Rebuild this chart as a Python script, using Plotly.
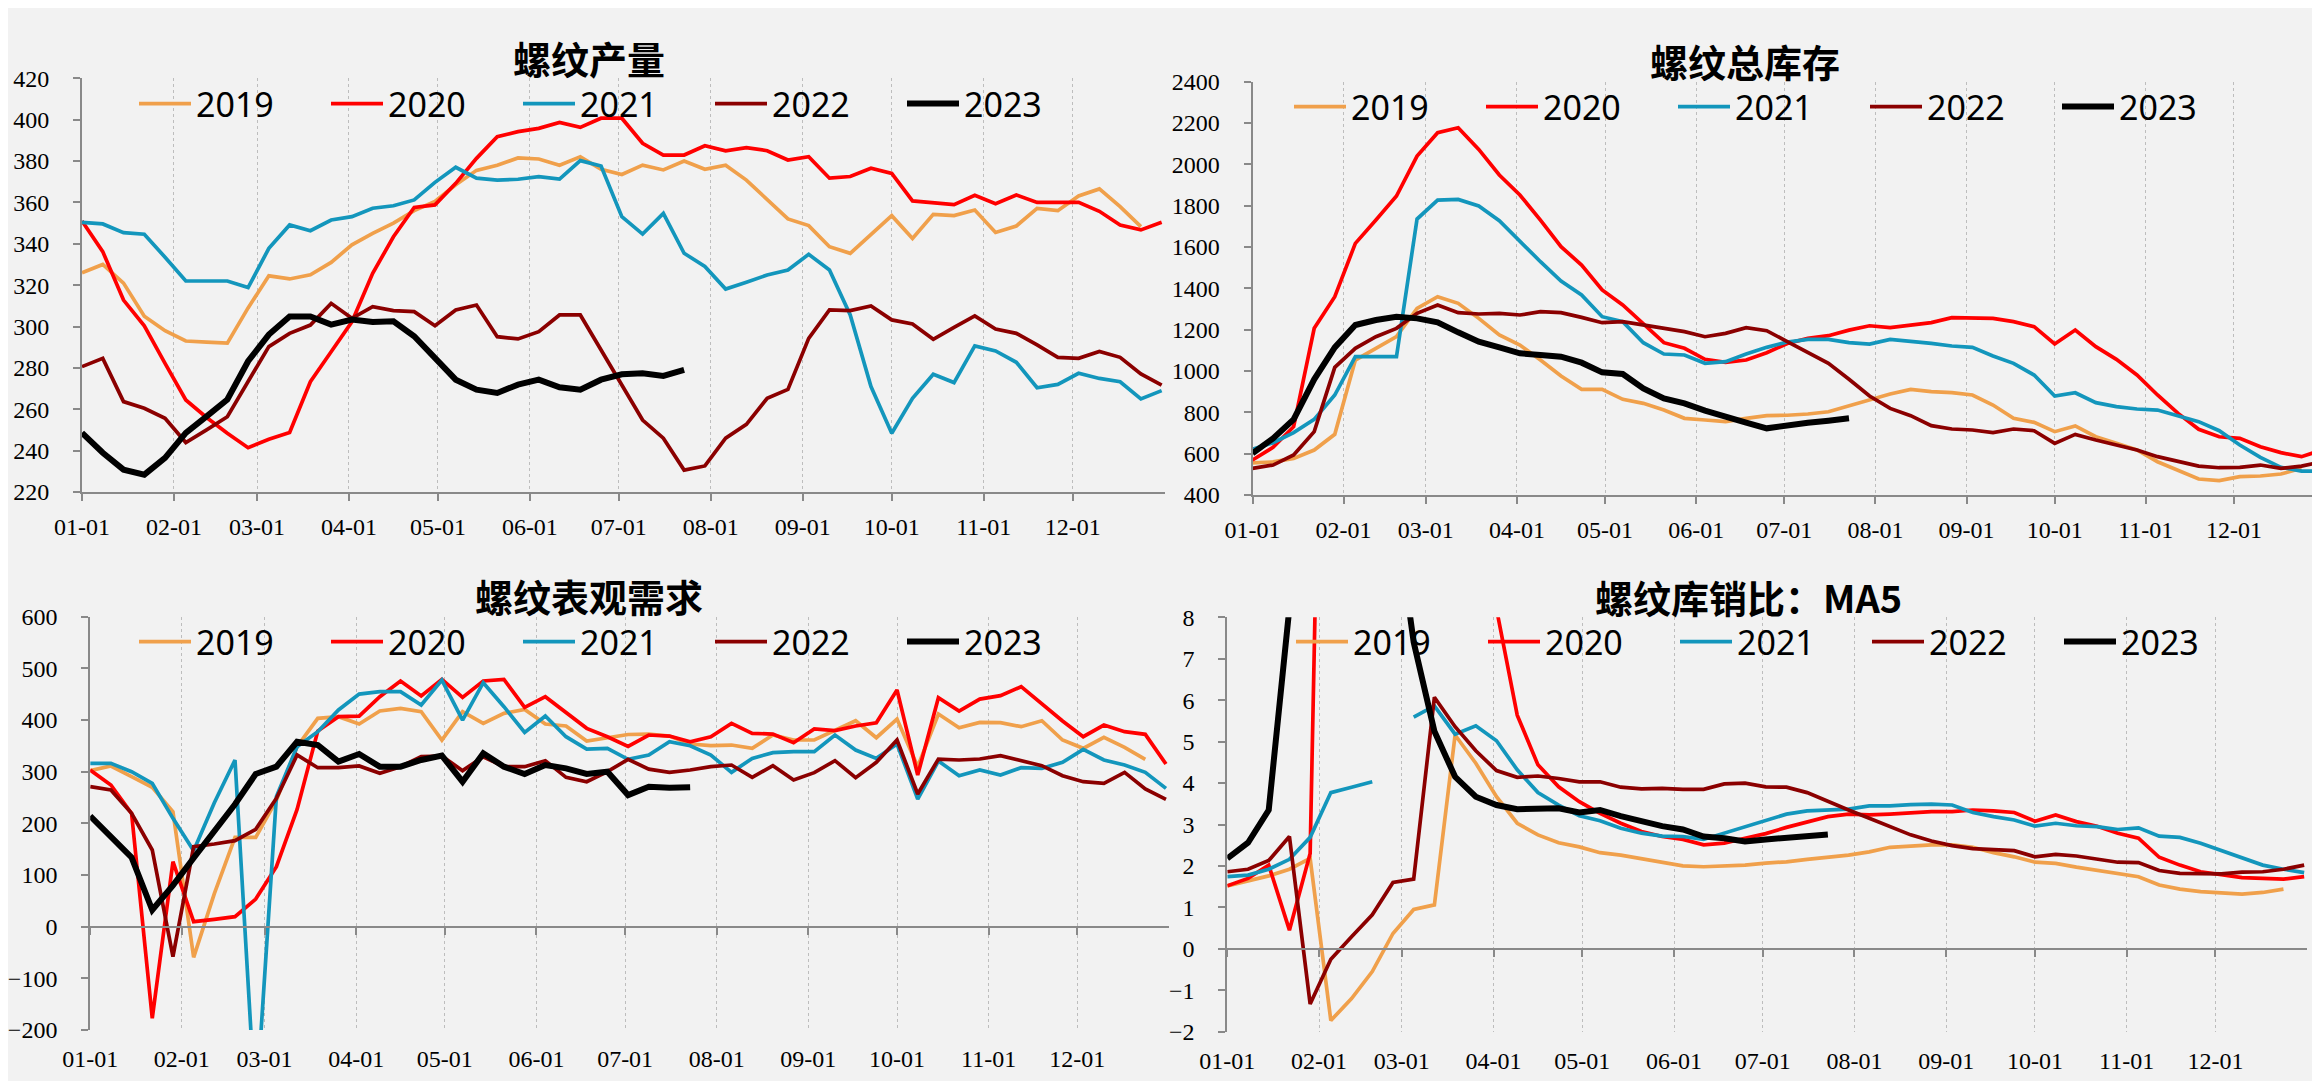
import pandas as pd
import plotly.graph_objects as go

# target screenshot size and the page's default 8px body margin
SW, SH = 2320, 1081
PAGE = 8
W, H = SW - PAGE, SH - PAGE


def fx(x):
    return (x - PAGE) / W


def fy(y):
    return 1 - (y - PAGE) / H


years = ["2019", "2020", "2021", "2022", "2023"]
colors = {"2019": "#F0A04B", "2020": "#FF0000", "2021": "#1396BC", "2022": "#8B0000", "2023": "#000000"}
widths = {"2019": 3.7, "2020": 3.7, "2021": 3.7, "2022": 3.7, "2023": 6}

# ---------------- 螺纹产量 ----------------
prod_2019 = [326, 330, 321, 305, 298, 293, 292.5, 292, 309, 324.5, 323, 325, 331, 339.5, 345, 350, 356, 360.5,
             368.5, 375.5, 378, 381.5, 381, 378, 382, 376, 373.5, 378, 375.7, 380, 376, 378, 370.8, 361.2, 352,
             348.8, 338.6, 335.4, 344.7, 353.6, 342.6, 354.2, 353.6, 356.3, 345.5, 348.6, 357.1, 356, 363.1,
             366.5, 358, 348.3]
prod_2020 = [351, 336.2, 312.8, 300.3, 282.2, 264.5, 256, 248.4, 241.4, 245.5, 248.8, 273.3, 287.8, 302.3, 325.7,
             343.4, 357.6, 358.8, 369.2, 381.3, 391.8, 394.2, 395.8, 398.7, 396.3, 400.7, 400.7, 388.6, 382.9,
             382.9, 387.4, 384.9, 386.5, 385, 380.5, 382.1, 371.7, 372.5, 376.5, 374, 360.7, 359.6, 358.9, 363.4,
             359.4, 363.6, 360, 360, 360, 355.7, 349.1, 346.7, 350.4]
prod_2021 = [350.4, 349.6, 345.4, 344.6, 333.5, 322, 322, 322, 318.8, 337.8, 349.1, 346.3, 351.5, 353.1, 357.2,
             358.4, 361.2, 369.7, 377, 371.7, 370.8, 371.2, 372.5, 371.3, 380.2, 377.6, 353.1, 344.7, 354.7,
             335.4, 329, 318.1, 321.4, 324.9, 327.3, 334.9, 327.3, 305.6, 271, 248.4, 265.3, 276.9, 272.9, 290.6,
             288.2, 282.7, 270.4, 272, 277.4, 274.9, 273.3, 265, 269]
prod_2022 = [280.6, 284.6, 263.7, 260.5, 255.6, 243.9, 250, 256.4, 273.4, 290.3, 296.7, 300.7, 311.2, 304, 309.6,
             307.7, 307.2, 300.4, 308, 310.4, 295.1, 294, 297.5, 305.6, 305.6, 288.7, 271.3, 254.8, 246, 230.6,
             232.6, 246, 252.7, 265.3, 269.6, 294.3, 308, 307.7, 309.9, 303.2, 301.2, 293.8, 299.6, 305.1, 298.8,
             296.7, 291.1, 285.1, 284.6, 287.9, 285.1, 277.1, 271.7]
prod_2023 = [248.6, 239, 230.8, 228.4, 236.5, 248.6, 256.6, 264.7, 283.2, 296.1, 304.9, 304.9, 300.9, 303.4,
             302.2, 302.5, 295.3, 284.8, 274.3, 269.5, 267.9, 271.9, 274.3, 270.6, 269.5, 274.3, 276.9, 277.4,
             276.1, 279]

# ---------------- 螺纹总库存 ----------------
inv_2019 = [555, 560, 577, 617.7, 693.6, 1053, 1109.7, 1166, 1303, 1359.7, 1327.4, 1254.8, 1174.2, 1125.8, 1053.2,
            975.8, 911.3, 911.3, 862.9, 843.5, 811.3, 771, 762.9, 754.8, 771, 783.9, 786, 792, 803, 830.6, 860,
            889, 911, 900, 895, 884, 835.5, 771, 751.6, 706.5, 734, 682, 650, 617.7, 561, 521, 477.5, 469.4,
            488.7, 492, 501.6, 529]
inv_2020 = [569.4, 630.6, 730.6, 1206.5, 1359.7, 1617.7, 1730.6, 1846.8, 2040.3, 2153.2, 2177.4, 2072.6, 1948.4,
            1851.6, 1730.6, 1601.6, 1512.9, 1392, 1319.4, 1227.4, 1137.1, 1109.7, 1056.5, 1042, 1053.2, 1088.7,
            1133, 1158, 1171, 1198, 1219, 1209.7, 1222.6, 1234, 1258, 1258, 1254.8, 1238.7, 1214.5, 1130.6,
            1198.4, 1117.7, 1056.5, 980.6, 884, 795, 717.8, 682, 674, 633.9, 605, 585.5, 617.7]
inv_2021 = [621, 653, 701.6, 766, 883.9, 1069.4, 1069.4, 1069.4, 1735.5, 1827.4, 1830.6, 1798.4, 1727.4, 1625.8,
            1529, 1435.5, 1367.7, 1262.9, 1238.7, 1137.1, 1082.3, 1077.4, 1037.1, 1045.2, 1082.3, 1114.5, 1140,
            1153, 1153, 1137, 1130.6, 1153, 1145, 1134, 1121, 1114.5, 1072.6, 1037, 980.6, 879, 895, 846.8,
            827.4, 816, 811, 784, 755, 711, 642, 582, 534, 516, 516]
inv_2022 = [529, 545, 593.5, 706.5, 1017.7, 1109.7, 1166, 1206.5, 1279, 1319.4, 1282.3, 1275.8, 1279, 1271, 1287,
            1282.3, 1259.7, 1233.9, 1238.7, 1222.6, 1206.5, 1190.3, 1166, 1182.3, 1209.7, 1195.2, 1142, 1088.7,
            1037, 960, 879, 819, 784, 735.5, 719.4, 714.5, 701.6, 719.4, 711, 650, 693.5, 666, 642, 617.7, 585.5,
            561, 540, 532, 534, 545, 529, 540, 561]
inv_2023 = [602, 674, 766, 960, 1114.5, 1222.6, 1246.8, 1262.9, 1254.8, 1235.5, 1187.1, 1142, 1114.5, 1085.5,
            1077.4, 1069.4, 1040.3, 993.5, 985.5, 916.1, 867.7, 843.5, 808, 775.8, 750, 722.6, 740, 750, 759.7, 771]

# ---------------- 螺纹表观需求 ----------------
dem_2019 = [301.9, 311, 290.3, 269.7, 222.6, -59.4, 64, 172.9, 172.9, 245, 348.4, 403.2, 406.5, 392.3, 417.4,
            422.6, 416.1, 361.3, 416.1, 393.5, 412.9, 420.6, 392.3, 388.4, 359.4, 366.5, 372, 372.9, 369, 353.5,
            350.3, 351.6, 345.2, 371, 361.3, 361.3, 380.6, 398.7, 365.8, 401.9, 309.7, 411.6, 385.2, 395.5,
            394.8, 387.1, 398.7, 361.3, 345.2, 366.5, 347.1, 323.9]
dem_2020 = [303.2, 274.2, 219.4, -177.4, 125.8, 9.7, 14.2, 19.4, 53.5, 116, 227, 378.7, 406.5, 407.7, 445.2,
            475.5, 446.5, 478.7, 443.9, 475.5, 478.7, 424.5, 445.2, 414.8, 383.9, 367.7, 349, 371, 369, 358,
            367.7, 393.5, 374.2, 372.9, 356.1, 382.6, 379.4, 388.4, 394.8, 458.1, 293.5, 443.2, 417.4, 440.6,
            447.1, 464.5, 431, 398.1, 367.7, 390.3, 377.4, 372.3, 314.8]
dem_2021 = [316.1, 316.1, 300, 277.4, 209.7, 147, 240, 322.6, -360, 251.6, 348.4, 377.4, 419.4, 450.3, 454.8,
            454.8, 429, 477.4, 400, 472.3, 425.8, 376.1, 407.7, 367.7, 343.9, 345.2, 324, 332.3, 358.1, 350.3,
            332.3, 298.7, 325.8, 336.8, 338.7, 338.7, 371, 341.9, 325.8, 353.5, 247.1, 320.6, 292.3, 303.2,
            293.5, 307.7, 306.5, 318.1, 343.2, 322.6, 312.9, 298.7, 267.7]
dem_2022 = [271, 264.5, 219.4, 148.4, -58, 154.8, 160, 166.5, 188.4, 248.4, 332.3, 307.7, 307.7, 311, 296.8,
            309.7, 329, 330.3, 302, 329, 309.7, 309.7, 321.3, 289, 280.6, 300, 323.9, 305, 298.7, 303.2, 309.7,
            312.9, 289, 311.6, 283.9, 298.1, 321.3, 288.4, 318.1, 361.3, 256.8, 324.5, 322.6, 324.5, 331, 320.6,
            311.6, 292.3, 280.6, 277.4, 298.7, 266.5, 246.5]
dem_2023 = [214.2, 172.9, 134.2, 32.3, 80, 133, 186, 237, 295.5, 309.7, 358, 351.6, 319.4, 334.2, 309.7, 309.7,
            322.6, 331, 280.6, 335.5, 309.7, 295.5, 312.9, 306.5, 295.5, 300, 254.7, 271, 268.7, 270]

# ---------------- 螺纹库销比：MA5 ----------------
ratio_2019 = [1.52, 1.64, 1.76, 1.92, 2.18, -1.73, -1.2, -0.55, 0.37, 0.95, 1.06, 5.16, 4.48, 3.67, 3.03, 2.75,
              2.56, 2.46, 2.32, 2.26, 2.18, 2.10, 2.0, 1.98, 2.0, 2.02, 2.07, 2.10, 2.16, 2.21, 2.26, 2.34, 2.45,
              2.48, 2.51, 2.51, 2.45, 2.32, 2.22, 2.09, 2.06, 1.97, 1.90, 1.81, 1.74, 1.54, 1.44, 1.38, 1.34,
              1.32, 1.36, 1.44]
ratio_2020 = [1.52, 1.70, 2.02, 0.45, 2.30, 27, 40, 45, 38, 30, 24, 18, 12, 8.2, 5.64, 4.44, 3.91, 3.55, 3.27,
              3.03, 2.83, 2.71, 2.64, 2.51, 2.55, 2.67, 2.78, 2.93, 3.07, 3.19, 3.25, 3.23, 3.25, 3.29, 3.31, 3.31,
              3.35, 3.33, 3.29, 3.08, 3.23, 3.07, 2.96, 2.79, 2.67, 2.21, 2.02, 1.86, 1.78, 1.72, 1.70, 1.68, 1.74]
ratio_2021 = [1.74, 1.78, 1.92, 2.16, 2.69, 3.77, 3.9, 4.03, None, 5.59, 5.86, 5.18, 5.38, 5.02, 4.32, 3.77, 3.47,
              3.21, 3.09, 2.91, 2.79, 2.72, 2.71, 2.64, 2.79, 2.95, 3.09, 3.25, 3.33, 3.35, 3.37, 3.45, 3.45, 3.48,
              3.49, 3.47, 3.29, 3.19, 3.11, 2.96, 3.03, 2.97, 2.95, 2.88, 2.92, 2.72, 2.69, 2.55, 2.37, 2.18, 2.02,
              1.92, 1.84]
ratio_2022 = [1.86, 1.92, 2.13, 2.71, -1.33, -0.25, 0.29, 0.82, 1.60, 1.68, 6.07, 5.36, 4.78, 4.30, 4.14, 4.17,
              4.11, 4.03, 4.03, 3.9, 3.86, 3.87, 3.85, 3.85, 3.98, 4.0, 3.91, 3.9, 3.77, 3.55, 3.35, 3.15, 2.96,
              2.75, 2.6, 2.49, 2.42, 2.40, 2.37, 2.22, 2.28, 2.24, 2.16, 2.09, 2.08, 1.89, 1.82, 1.81, 1.81, 1.85,
              1.86, 1.92, 2.02]
ratio_2023 = [2.18, 2.56, 3.35, 8.1, 14, 18, 16, 13, 11, 7.4, 5.25, 4.15, 3.67, 3.47, 3.37, 3.39, 3.39, 3.29,
              3.35, 3.2, 3.07, 2.96, 2.88, 2.71, 2.67, 2.59, 2.64, 2.69, 2.72, 2.76]

# weekly positions on a common calendar year
weeks = pd.date_range("2023-01-01", periods=53, freq="7D")
month_ticks = pd.date_range("2023-01-01", "2023-12-01", freq="MS")

# boxes are in screenshot pixels: (left, top, right, bottom) of the plot area
panels = [
    dict(title="螺纹产量", series=[prod_2019, prod_2020, prod_2021, prod_2022, prod_2023],
         n="", box=(82, 78.3, 1164.5, 492), rng=[220, 420], dtick=20, xend="2023-12-31 23:00",
         title_xy=(589, 57), leg_xy=(139, 104), zero=False),
    dict(title="螺纹总库存", series=[inv_2019, inv_2020, inv_2021, inv_2022, inv_2023],
         n="2", box=(1252.5, 81.7, 2320, 495), rng=[400, 2400], dtick=200, xend="2023-12-30 07:00",
         title_xy=(1745, 60), leg_xy=(1294, 107), zero=False),
    dict(title="螺纹表观需求", series=[dem_2019, dem_2020, dem_2021, dem_2022, dem_2023],
         n="3", box=(90.2, 616.7, 1168.8, 1030), rng=[-200, 600], dtick=100, xend="2023-12-31 23:00",
         title_xy=(589, 595), leg_xy=(139, 642), zero=True),
    dict(title="螺纹库销比：MA5", series=[ratio_2019, ratio_2020, ratio_2021, ratio_2022, ratio_2023],
         n="4", box=(1227.3, 617.3, 2307, 1031.7), rng=[-2, 8], dtick=1, xend="2023-12-31 23:00",
         title_xy=(1748, 596), leg_xy=(1296, 642), zero=True),
]

AX = "#898989"
tick_font = dict(family="Liberation Serif", size=24, color="#000000")

fig = go.Figure()
layout = dict(
    width=W, height=H, autosize=False,
    margin=dict(l=0, r=0, t=0, b=0, pad=0, autoexpand=False),
    paper_bgcolor="#F2F2F2", plot_bgcolor="#F2F2F2",
    annotations=[],
)

for p in panels:
    n = p["n"]
    legname = "legend" + n
    for yr, vals in zip(years, p["series"]):
        fig.add_trace(go.Scatter(
            x=weeks[:len(vals)], y=vals, name=yr, mode="lines",
            line=dict(color=colors[yr], width=widths[yr]),
            xaxis="x" + n, yaxis="y" + n, legend=legname, connectgaps=False,
        ))
    x0, y0, x1, y1 = p["box"]
    xd = [fx(x0), min(1.0, fx(x1))]
    yd = [fy(y1), fy(y0)]
    layout["xaxis" + n] = dict(
        domain=xd, anchor="y" + n, type="date", range=["2023-01-01", p["xend"]],
        tickvals=list(month_ticks), tickformat="%m-%d", tickfont=tick_font,
        showgrid=True, gridcolor="#BDBDBD", gridwidth=1.3, griddash="dot",
        showline=not p["zero"], linecolor=AX, linewidth=2,
        ticks="" if p["zero"] else "outside", ticklen=7, tickwidth=2, tickcolor=AX,
        ticklabelstandoff=12 if p["zero"] else 5, zeroline=False, automargin=False,
    )
    layout["yaxis" + n] = dict(
        domain=yd, anchor="x" + n, range=p["rng"], dtick=p["dtick"], tick0=p["rng"][0],
        tickfont=tick_font, showgrid=False, zeroline=False,
        showline=True, linecolor=AX, linewidth=2, automargin=False,
        ticks="outside", ticklen=7, tickwidth=2, tickcolor=AX, ticklabelstandoff=19,
    )
    lx, ly = p["leg_xy"]
    layout[legname] = dict(
        orientation="h", x=fx(lx - 5), y=fy(ly), xanchor="left", yanchor="middle",
        bgcolor="rgba(0,0,0,0)", font=dict(family="Noto Sans", size=34, color="#000000"),
        entrywidth=125, entrywidthmode="pixels", itemwidth=52, tracegroupgap=0,
    )
    tx, ty = p["title_xy"]
    layout["annotations"].append(dict(
        text="<b>" + p["title"] + "</b>", x=fx(tx), y=fy(ty), xref="paper", yref="paper",
        xanchor="center", yanchor="middle", showarrow=False,
        font=dict(family="Noto Sans CJK SC", size=38, color="#000000"),
    ))

# zero-level axes (line + month ticks) for the two lower panels
for base, extra in (("3", "5"), ("4", "6")):
    ya = layout["yaxis" + base]
    lo, hi = ya["range"]
    d0, d1 = ya["domain"]
    pos = d0 + (0 - lo) / (hi - lo) * (d1 - d0)
    xa = layout["xaxis" + base]
    layout["xaxis" + extra] = dict(
        overlaying="x" + base, anchor="free", position=pos, type="date", range=xa["range"],
        tickvals=list(month_ticks), showticklabels=False, showgrid=False, zeroline=False,
        showline=True, linecolor=AX, linewidth=2, ticks="outside", ticklen=7, tickwidth=2, tickcolor=AX,
    )
    fig.add_trace(go.Scatter(x=[weeks[0]], y=[None], xaxis="x" + extra, yaxis="y" + base,
                             showlegend=False, hoverinfo="skip", mode="lines"))

fig.update_layout(**layout)
fig.write_html("out.html")
